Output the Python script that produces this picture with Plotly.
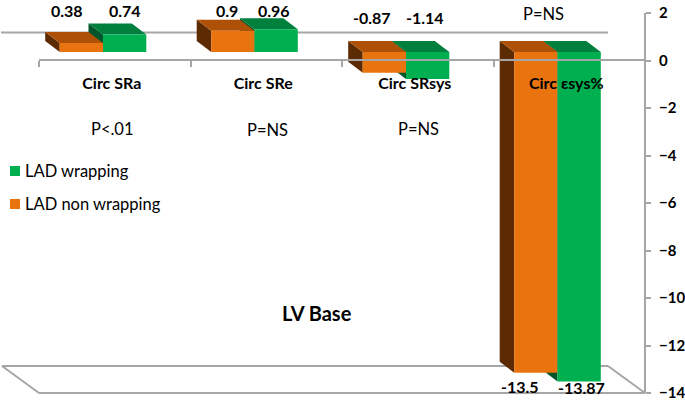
import plotly.graph_objects as go

# ---- data ----
categories = ["Circ SRa", "Circ SRe", "Circ SRsys", "Circ εsys%"]
non_wrapping = [0.38, 0.9, -0.87, -13.5]
wrapping = [0.74, 0.96, -1.14, -13.87]
p_values = ["P<.01", "P=NS", "P=NS", "P=NS"]
y_ticks = [2, 0, -2, -4, -6, -8, -10, -12, -14]
name_wrapping = "LAD wrapping"
name_non = "LAD non wrapping"
chart_note = "LV Base"

# ---- layout constants (pixels) ----
W, H = 685, 400
L, R, T, B = 39, 645, 13, 393
UNIT_Y = (B - T) / 16.0
CAT_W = (R - L) / 4.0
FRONT_BASE_PX = 52
FIRST_CENTER_PX = 103
DEPTH_X_PX, DEPTH_Y_PX = 14.5, 11
BAR_W = 43.3 / CAT_W

GREY = "#A6A6A6"
ORANGE, ORANGE_TOP, ORANGE_SIDE = "#E8730F", "#AE5006", "#5C2B02"
GREEN, GREEN_TOP, GREEN_SIDE = "#00B050", "#00803C", "#00552A"
FONT = "Lato"

def fx(px):
    return (px - L) / (R - L)

def fy(py):
    return (B - py) / (B - T)

bar_range_x = [(L - FIRST_CENTER_PX) / CAT_W, (R - FIRST_CENTER_PX) / CAT_W]
bar_range_y = [(FRONT_BASE_PX - B) / UNIT_Y, (FRONT_BASE_PX - T) / UNIT_Y]
dx, dy = DEPTH_X_PX / CAT_W, DEPTH_Y_PX / UNIT_Y

def faces(values, offset):
    tx, ty, sx, sy = [], [], [], []
    for i, v in enumerate(values):
        xl = i + offset
        xr = xl + BAR_W
        top, bot = max(v, 0), min(v, 0)
        tx += [xl, xr, xr - dx, xl - dx, xl, None]
        ty += [top, top, top + dy, top + dy, top, None]
        sx += [xl, xl - dx, xl - dx, xl, xl, None]
        sy += [top, top + dy, bot + dy, bot, top, None]
    return tx, ty, sx, sy

fig = go.Figure()

# 3D faces, rear series first
for vals, off, ctop, cside in [(wrapping, 0, GREEN_TOP, GREEN_SIDE),
                               (non_wrapping, -BAR_W, ORANGE_TOP, ORANGE_SIDE)]:
    tx, ty, sx, sy = faces(vals, off)
    for xs, ys, c in [(sx, sy, cside), (tx, ty, ctop)]:
        fig.add_trace(go.Scatter(x=xs, y=ys, mode="lines", fill="toself", fillcolor=c,
                                 line=dict(width=0, color=c), hoverinfo="skip",
                                 showlegend=False, xaxis="x", yaxis="y"))

# front faces
idx = list(range(len(categories)))
fig.add_trace(go.Bar(x=idx, y=non_wrapping, name=name_non, marker_color=ORANGE, cliponaxis=False,
                     marker_line_width=0, xaxis="x2", yaxis="y2", showlegend=False))
fig.add_trace(go.Bar(x=idx, y=wrapping, name=name_wrapping, marker_color=GREEN, cliponaxis=False,
                     marker_line_width=0, xaxis="x2", yaxis="y2", showlegend=False))

# carrier of the visible axes
fig.add_trace(go.Scatter(x=categories, y=[None] * 4, mode="markers", showlegend=False,
                         hoverinfo="skip", xaxis="x3", yaxis="y3"))

hidden = dict(visible=False, fixedrange=True)
fig.update_layout(
    width=W, height=H, autosize=False,
    margin=dict(l=L, r=W - R, t=T, b=H - B, pad=0, autoexpand=False),
    paper_bgcolor="white", plot_bgcolor="white",
    barmode="group", bargap=1 - 2 * BAR_W, bargroupgap=0,
    font=dict(family=FONT, color="black"),
    showlegend=False,
    xaxis=dict(range=bar_range_x, **hidden),
    yaxis=dict(range=bar_range_y, **hidden),
    xaxis2=dict(range=bar_range_x, overlaying="x", anchor="y2", **hidden),
    yaxis2=dict(range=bar_range_y, overlaying="y", anchor="x2", **hidden),
    xaxis3=dict(type="category", categoryorder="array", categoryarray=categories,
                range=[-0.5, 3.5], overlaying="x", anchor="free", position=fy(60),
                showline=True, linecolor=GREY, linewidth=2, showgrid=False, zeroline=False,
                tickson="boundaries", ticks="outside", ticklen=6, tickcolor=GREY, tickwidth=2,
                ticklabelstandoff=9, ticklabelshift=-3,
                tickfont=dict(size=16, family=FONT, color="black", weight="bold"),
                fixedrange=True),
    yaxis3=dict(range=[-14, 2], overlaying="y", side="right", anchor="free", position=1,
                tickmode="array", tickvals=y_ticks, showline=True, linecolor=GREY, linewidth=2,
                showgrid=False, zeroline=False, ticks="outside", ticklen=5, tickcolor=GREY, tickwidth=2,
                ticklabelstandoff=5, ticklabeloverflow="allow",
                tickfont=dict(size=15, family=FONT, color="black", weight="bold"),
                fixedrange=True),
)

# wall and floor lines
def seg(x0, y0, x1, y1):
    fig.add_shape(type="line", xref="paper", yref="paper", x0=fx(x0), y0=fy(y0), x1=fx(x1), y1=fy(y1),
                  line=dict(color=GREY, width=2), layer="below")

seg(1, 32.5, 608, 32.5)
seg(2, 366, 608, 366)
seg(39, 393, 645, 393)
seg(2, 366, 39, 393)
seg(608, 366, 645, 393)

def note(text, x, y, size=16, bold=False, anchor="center"):
    fig.add_annotation(text=text, xref="paper", yref="paper", x=fx(x), y=fy(y), showarrow=False,
                       xanchor=anchor, yanchor="middle", borderpad=0,
                       font=dict(size=size, family=FONT, color="black", weight="bold" if bold else "normal"))

# value labels
non_label_pos = [(67, 11), (227, 10), (372, 17), (520, 386)]
wrap_label_pos = [(125, 10), (274, 11), (425, 17), (581, 387)]
for v, (x, y) in zip(non_wrapping, non_label_pos):
    note(f"{v:g}", x, y, 16, True)
for v, (x, y) in zip(wrapping, wrap_label_pos):
    note(f"{v:g}", x, y, 16, True)

# p values
p_pos = [(112, 129), (267, 130), (418, 129), (543, 14)]
for p, (x, y) in zip(p_values, p_pos):
    note(p, x, y, 16.5)

note(chart_note, 317, 313, 20, True)

# legend
for name, color, y in [(name_wrapping, GREEN, 171), (name_non, ORANGE, 204)]:
    fig.add_shape(type="rect", xref="paper", yref="paper", x0=fx(10), x1=fx(20), y0=fy(y - 5), y1=fy(y + 5),
                  fillcolor=color, line_width=0)
    note(name, 24, y, 16.5, anchor="left")

fig.write_html("out.html", config=dict(displayModeBar=False),
               post_script="document.body.style.margin='0';")
